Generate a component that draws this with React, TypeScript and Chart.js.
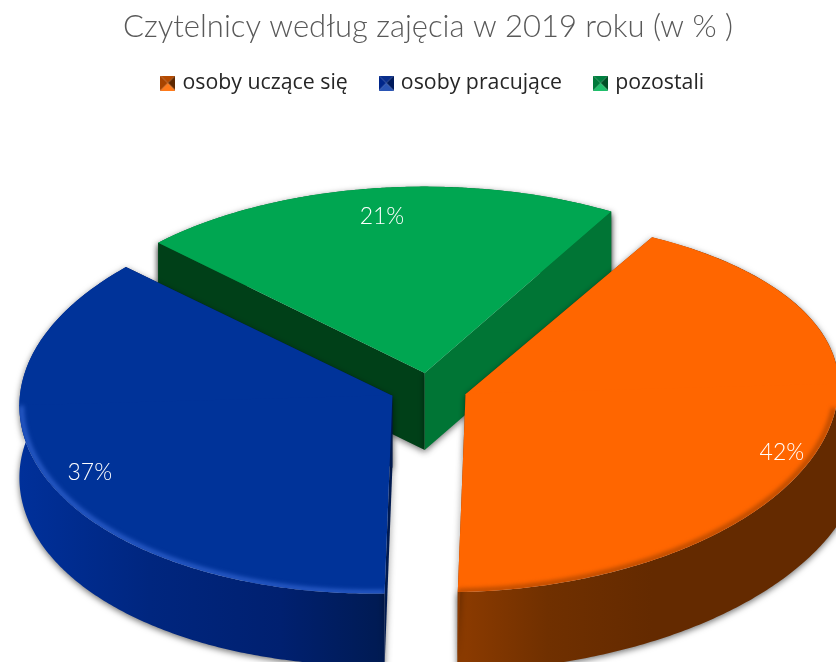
import React, { useEffect, useRef } from "react";
import { Chart, registerables } from "chart.js";

Chart.register(...registerables);

const categories = ["osoby uczące się", "osoby pracujące", "pozostali"];
const values = [42, 37, 21];
const titleText = "Czytelnicy według zajęcia w 2019 roku (w % )";

const topColors = ["#FF6600", "#003399", "#00A651"];
const rimColors = ["#B84A00", "#2A5CC8", "#00A651"];
const markerColors = [
  ["#B54A00", "#5E2800", "#FF7A1A", "#A84400"],
  ["#0A2F8C", "#001A5C", "#2A55B5", "#00268A"],
  ["#008040", "#004F25", "#1FBF6B", "#007A3A"],
];
const wallStops: [number, string][][] = [
  [[0, "#8A3A00"], [0.22, "#703000"], [0.5, "#642A00"], [1, "#642A00"]],
  [[0, "#00309A"], [0.35, "#00267F"], [0.7, "#002070"], [1, "#001A50"]],
  [[0, "#007535"], [1, "#007535"]],
];
const edgeColors = [
  ["#8A3A00", "#8A3A00"],
  ["#001A50", "#001A50"],
  ["#004018", "#007535"],
];
const labelFractions = [0.914, 0.882, 0.845];
const labelAngleShift = [6.3, -0.9, 0];

const CX = 428;
const CY = 389.5;
const K_BACK = [0.47, 0.52, 0.5];
const K_FRONT = 0.53;
const K_EXPLODE = 0.45;
const SHEAR = [0.027, 0.027, 0];
const NUDGE_X = [0, 0.5, 2];
const NUDGE_Y = [0, -0.5, 1];
const WALL_GROW = [25, 0, 0];
const WALL_DEPTH = [66, 72, 77];
const EXPLODE = 39;

function marker(c: string[]) {
  const s = 15;
  const cv = document.createElement("canvas");
  cv.width = s;
  cv.height = s;
  const g = cv.getContext("2d")!;
  const m = s / 2;
  const tri = (col: string, a: number[], b: number[]) => {
    g.fillStyle = col;
    g.beginPath();
    g.moveTo(a[0], a[1]);
    g.lineTo(b[0], b[1]);
    g.lineTo(m, m);
    g.closePath();
    g.fill();
  };
  tri(c[0], [0, 0], [s, 0]);
  tri(c[1], [s, 0], [s, s]);
  tri(c[2], [s, s], [0, s]);
  tri(c[3], [0, s], [0, 0]);
  return cv;
}

function geom(arc: any, i: number) {
  const mid = (arc.startAngle + arc.endAngle) / 2;
  const ox = Math.cos(mid) * EXPLODE;
  const oy = Math.sin(mid) * EXPLODE;
  return { mid, px: CX + ox + NUDGE_X[i], py: CY + oy * K_EXPLODE + NUDGE_Y[i] };
}

function rimPoint(px: number, py: number, r: number, i: number, a: number): [number, number] {
  const sin = Math.sin(a);
  const dx = Math.cos(a) * r;
  return [px + dx, py + sin * r * (sin > 0 ? K_FRONT : K_BACK[i]) - SHEAR[i] * dx];
}

function rimPoints(px: number, py: number, r: number, i: number, s: number, e: number) {
  const pts: [number, number][] = [];
  const n = 240;
  for (let j = 0; j <= n; j++) pts.push(rimPoint(px, py, r, i, s + ((e - s) * j) / n));
  return pts;
}

const pie3d = {
  id: "pie3d",
  afterLayout(chart: any) {
    chart.legend.left += 6;
    chart.legend.right += 6;
    chart.legend.top -= 7.7;
    chart.legend.bottom -= 7.7;
  },
  beforeDatasetDraw(chart: any, args: any) {
    const ctx: CanvasRenderingContext2D = chart.ctx;
    const arcs = args.meta.data;
    for (let i = arcs.length - 1; i >= 0; i--) {
      const arc = arcs[i];
      const { startAngle: s, endAngle: e, outerRadius: r } = arc;
      const { px, py } = geom(arc, i);
      const pts = rimPoints(px, py, r, i, s, e);
      const low = rimPoints(px, py, r + WALL_GROW[i], i, s, e);
      const depth = WALL_DEPTH[i];
      const [sx, sy] = pts[0];
      const [ex, ey] = pts[pts.length - 1];

      ctx.save();
      ctx.shadowColor = "rgba(0,0,0,0.55)";
      ctx.shadowBlur = 6;
      ctx.shadowOffsetY = 2;
      const x0 = i === 1 ? px - r : px;
      const x1 = i === 1 ? px : px + r;
      const grad = ctx.createLinearGradient(x0, 0, x1, 0);
      wallStops[i].forEach(([f, c]) => grad.addColorStop(f, c));
      ctx.fillStyle = grad;
      ctx.beginPath();
      pts.forEach(([x, y], j) => (j ? ctx.lineTo(x, y) : ctx.moveTo(x, y)));
      for (let j = low.length - 1; j >= 0; j--) ctx.lineTo(low[j][0], low[j][1] + depth);
      ctx.closePath();
      ctx.fill();
      const quad = (col: string, ax: number, ay: number) => {
        ctx.fillStyle = col;
        ctx.beginPath();
        ctx.moveTo(px, py);
        ctx.lineTo(ax, ay);
        ctx.lineTo(ax, ay + depth);
        ctx.lineTo(px, py + depth);
        ctx.closePath();
        ctx.fill();
      };
      quad(edgeColors[i][0], sx, sy);
      quad(edgeColors[i][1], ex, ey);
      ctx.restore();

      // top face: the library's own arc, flattened by two scales meeting at its tip
      [K_BACK[i], K_FRONT].forEach((k, half) => {
        ctx.save();
        ctx.translate(px, py);
        ctx.transform(1, -SHEAR[i], 0, 1, 0, 0);
        ctx.beginPath();
        if (half === 0) ctx.rect(-1000, -1000, 2000, 1000.5);
        else ctx.rect(-1000, -0.5, 2000, 1000);
        ctx.clip();
        ctx.scale(1, k);
        ctx.translate(-arc.x, -arc.y);
        arc.draw(ctx);
        ctx.restore();
      });

      if (i < 2) {
        ctx.save();
        ctx.beginPath();
        ctx.moveTo(px, py);
        pts.forEach(([x, y]) => ctx.lineTo(x, y));
        ctx.closePath();
        ctx.clip();
        ctx.filter = "blur(2px)";
        ctx.strokeStyle = rimColors[i];
        ctx.lineWidth = 5;
        ctx.beginPath();
        rimPoints(px, py, r - 2, i, Math.max(s, 0.12), Math.min(e, Math.PI)).forEach(([x, y], j) =>
          j ? ctx.lineTo(x, y) : ctx.moveTo(x, y)
        );
        ctx.stroke();
        ctx.restore();
      }
    }
    return false;
  },
  afterDatasetsDraw(chart: any) {
    const ctx: CanvasRenderingContext2D = chart.ctx;
    const arcs = chart.getDatasetMeta(0).data;
    ctx.save();
    ctx.fillStyle = "#FFFFFF";
    ctx.font = "300 23px Lato";
    ctx.textAlign = "center";
    ctx.textBaseline = "middle";
    arcs.forEach((arc: any, i: number) => {
      const { mid, px, py } = geom(arc, i);
      const d = arc.outerRadius * labelFractions[i];
      const [x, y] = rimPoint(px, py, d, i, mid + (labelAngleShift[i] * Math.PI) / 180);
      ctx.fillText(values[i] + "%", x, y);
    });
    ctx.restore();
  },
};

export default function App() {
  const ref = useRef<HTMLCanvasElement>(null);
  useEffect(() => {
    const chart = new Chart(ref.current!, {
      type: "pie",
      data: {
        labels: categories,
        datasets: [
          {
            data: values,
            backgroundColor: topColors,
            borderWidth: 0,
            clip: false,
          } as any,
        ],
      },
      options: {
        responsive: false,
        animation: false,
        rotation: 30,
        radius: 373,
        layout: { padding: { left: 20 } },
        plugins: {
          tooltip: { enabled: false },
          title: {
            display: true,
            text: titleText,
            color: "#595959",
            font: { family: "Lato", size: 31, weight: "300" },
            padding: { top: 8.4, bottom: 0 },
          },
          legend: {
            position: "top",
            labels: {
              usePointStyle: true,
              boxWidth: 8,
              boxHeight: 15,
              padding: 34.5,
              color: "#262626",
              font: { family: "Open Sans", size: 21.3 },
              generateLabels: () =>
                categories.map((text, i) => ({
                  text,
                  pointStyle: marker(markerColors[i]),
                  fontColor: "#262626",
                  hidden: false,
                  index: i,
                })),
            },
          },
        },
      } as any,
      plugins: [pie3d as any],
    });
    return () => chart.destroy();
  }, []);
  return (
    <div style={{ position: "absolute", left: 0, top: 0, width: 836, height: 662, overflow: "hidden", background: "#fff" }}>
      <canvas ref={ref} width={836} height={662} style={{ display: "block" }} />
    </div>
  );
}
